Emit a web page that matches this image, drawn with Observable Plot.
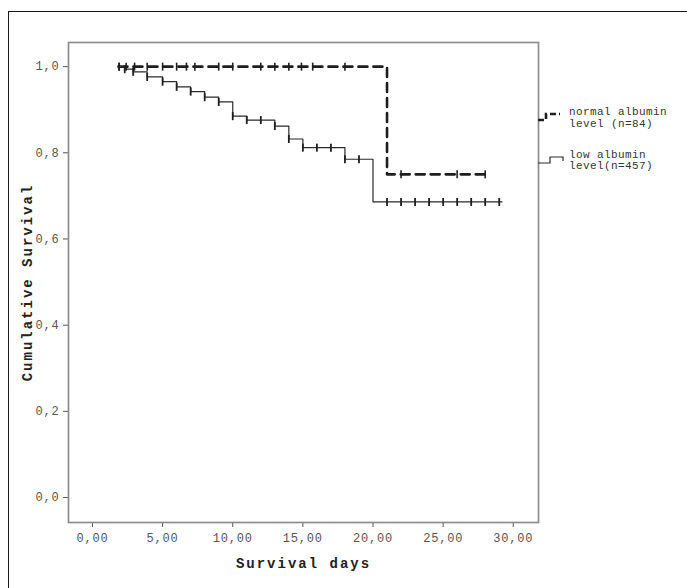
<!DOCTYPE html>
<html>
<head>
<meta charset="utf-8">
<script src="https://cdn.jsdelivr.net/npm/d3@7"></script>
<script src="https://cdn.jsdelivr.net/npm/@observablehq/plot@0.6"></script>
<style>
  html, body { margin: 0; padding: 0; background: #fff; }
  #wrap { position: relative; width: 687px; height: 588px; overflow: hidden; background: #fff; }
  #outer { position: absolute; left: 8px; top: 11px; width: 720px; height: 620px; border: 1.5px solid #1a1a1a; box-sizing: border-box; }
  #chart { position: absolute; left: 0; top: 0; }
  #legend { position: absolute; left: 0; top: 0; }
  #chart svg { letter-spacing: 0.8px; }
  #chart g[aria-label="text"] { letter-spacing: 2px; }
</style>
</head>
<body>
<div id="wrap">
  <div id="outer"></div>
  <div id="chart"></div>
  <svg id="legend" width="687" height="588"></svg>
</div>
<script>
// ---- data ----
const xTicks = [0, 5, 10, 15, 20, 25, 30];
const yTicks = [0, 0.2, 0.4, 0.6, 0.8, 1.0];

// low albumin level (n=457): Kaplan-Meier steps
const lowTime = [1.85, 2.3, 2.9, 3.9, 5, 6, 7, 8, 9, 10, 11, 13, 14, 15, 18, 20, 29.2];
const lowSurv = [1.0, 0.994, 0.988, 0.976, 0.965, 0.953, 0.942, 0.929, 0.918, 0.885, 0.876, 0.862, 0.832, 0.812, 0.785, 0.686, 0.686];
// low albumin censored observations
const lowCensTime = [1.9, 2.3, 2.9, 3.9, 5, 6, 7, 8, 9, 10, 11, 12, 13, 14, 15, 16, 17, 18, 19, 21, 22, 23, 24, 25, 26, 27, 28, 29];
const lowCensSurv = [1.0, 0.994, 0.988, 0.976, 0.965, 0.953, 0.942, 0.929, 0.918, 0.885, 0.876, 0.876, 0.862, 0.832, 0.812, 0.812, 0.812, 0.785, 0.785, 0.686, 0.686, 0.686, 0.686, 0.686, 0.686, 0.686, 0.686, 0.686];

// normal albumin level (n=84)
const normTime = [1.85, 21, 28.3];
const normSurv = [1.0, 0.75, 0.75];
const normCensTime = [1.9, 2.4, 3, 3.9, 5, 6, 6.7, 7.3, 9, 10, 12, 13, 14, 14.9, 15.7, 18, 22, 26, 28];
const normCensSurv = [1, 1, 1, 1, 1, 1, 1, 1, 1, 1, 1, 1, 1, 1, 1, 1, 0.75, 0.75, 0.75];

const xLabel = "Survival days";
const yLabel = "Cumulative Survival";
const legendNames = [["normal albumin", "level (n=84)"], ["low albumin", "level(n=457)"]];

// ---- build tables ----
const low = lowTime.map((t, i) => ({t, s: lowSurv[i]}));
const lowC = lowCensTime.map((t, i) => ({t, s: lowCensSurv[i]}));
const norm = normTime.map((t, i) => ({t, s: normSurv[i]}));
const normC = normCensTime.map((t, i) => ({t, s: normCensSurv[i]}));

const vtick = {
  draw(ctx, size) {
    const r = Math.sqrt(size / Math.PI);
    ctx.moveTo(0, -r);
    ctx.lineTo(0, r);
  }
};

const fmtX = d => d.toFixed(2).replace(".", ",");
const fmtY = d => d.toFixed(1).replace(".", ",");

const plot = Plot.plot({
  width: 687,
  height: 588,
  marginLeft: 68,
  marginRight: 149,
  marginTop: 42,
  marginBottom: 66,
  style: {fontFamily: "'Liberation Mono', 'DejaVu Sans Mono', monospace", fontSize: "12px", color: "#333", background: "transparent"},
  x: {domain: [-1.71, 31.8], ticks: xTicks, tickFormat: fmtX, label: null},
  y: {domain: [-0.058, 1.056], ticks: yTicks, tickFormat: fmtY, label: null},
  marks: [
    Plot.axisX({ticks: xTicks, tickFormat: fmtX, tickSize: 5, tickPadding: 6, stroke: "#555", fill: "#555", label: null}),
    Plot.axisY({ticks: yTicks, tickFormat: fmtY, tickSize: 5, tickPadding: 4, stroke: "#555", fill: "#555", label: null}),
    Plot.frame({stroke: "#8c8c8c", strokeWidth: 1.7}),
    Plot.line(norm, {x: "t", y: "s", curve: "step-after", stroke: "#1e1e1e", strokeWidth: 2.6, strokeDasharray: "9,6"}),
    Plot.line(low, {x: "t", y: "s", curve: "step-after", stroke: "#2a2a2a", strokeWidth: 1.2}),
    Plot.dot(normC, {x: "t", y: "s", symbol: vtick, r: 4, stroke: "#1e1e1e", strokeWidth: 1.6, fill: "none"}),
    Plot.dot(lowC, {x: "t", y: "s", symbol: vtick, r: 4, stroke: "#1e1e1e", strokeWidth: 1.8, fill: "none"}),
    Plot.text([xLabel], {frameAnchor: "bottom", dy: 45, text: d => d, textAnchor: "middle", fontWeight: "bold", fontSize: 14, fill: "#222"}),
    Plot.text([yLabel], {frameAnchor: "left", dx: -41, rotate: -90, text: d => d, textAnchor: "middle", fontWeight: "bold", fontSize: 14, fill: "#222"})
  ]
});
document.getElementById("chart").appendChild(plot);

// ---- legend (drawn beside the plot) ----
const lg = d3.select("#legend");
lg.append("path").attr("d", "M538,120 H546 V114 H560").attr("fill", "none")
  .attr("stroke", "#1e1e1e").attr("stroke-width", 2.6).attr("stroke-dasharray", "6,3");
lg.append("path").attr("d", "M538,163 H550 V157 H563 V161").attr("fill", "none")
  .attr("stroke", "#2a2a2a").attr("stroke-width", 1.2);
const txt = lg.append("g").attr("font-family", "'Liberation Mono', monospace").attr("font-size", 11)
  .attr("letter-spacing", "0.4px").attr("fill", "#333");
txt.append("text").attr("x", 569).attr("y", 115).text(legendNames[0][0]);
txt.append("text").attr("x", 569).attr("y", 127).text(legendNames[0][1]);
txt.append("text").attr("x", 569).attr("y", 158).text(legendNames[1][0]);
txt.append("text").attr("x", 569).attr("y", 169).text(legendNames[1][1]);
</script>
</body>
</html>
